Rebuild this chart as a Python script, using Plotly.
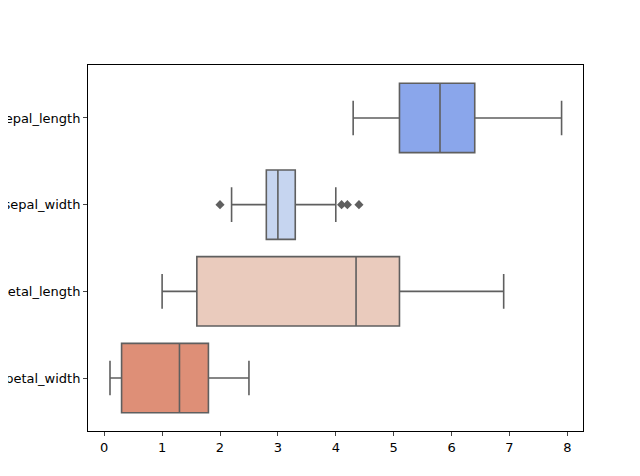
import plotly.graph_objects as go

features = ["sepal_length", "sepal_width", "petal_length", "petal_width"]
lower = [4.3, 2.2, 1.0, 0.1]
q1 = [5.1, 2.8, 1.6, 0.3]
median = [5.8, 3.0, 4.35, 1.3]
q3 = [6.4, 3.3, 5.1, 1.8]
upper = [7.9, 4.0, 6.9, 2.5]
colors = ["#8aa6eb", "#c6d5f0", "#eacbbd", "#de8f77"]

outlier_x = [2.0, 4.1, 4.2, 4.4]
outlier_y = ["sepal_width"] * 4

fig = go.Figure()
for i, name in enumerate(features):
    fig.add_trace(go.Box(
        y=[name], orientation="h",
        lowerfence=[lower[i]], q1=[q1[i]], median=[median[i]],
        q3=[q3[i]], upperfence=[upper[i]],
        fillcolor=colors[i], line=dict(color="#5f5f5f", width=1.6),
        width=0.8, whiskerwidth=0.5, boxpoints=False, showlegend=False,
    ))

fig.add_trace(go.Scatter(
    x=outlier_x, y=outlier_y, mode="markers",
    marker=dict(symbol="diamond", size=7, color="#5f5f5f"),
    showlegend=False,
))

fig.update_layout(
    width=640, height=476,
    margin=dict(l=80, r=65, t=57, b=53, autoexpand=False),
    plot_bgcolor="white", paper_bgcolor="white",
    font=dict(family="DejaVu Sans", size=13, color="black"),
)
fig.update_xaxes(range=[-0.28, 8.27], tickvals=list(range(9)), showgrid=False,
                 zeroline=False, showline=True, mirror=True, linecolor="black",
                 ticks="outside", ticklen=4, automargin=False)
fig.update_yaxes(categoryorder="array", categoryarray=features, autorange="reversed",
                 showgrid=False, zeroline=False, showline=True, mirror=True,
                 linecolor="black", ticks="outside", ticklen=4, automargin=False)

fig.write_html("out.html")
